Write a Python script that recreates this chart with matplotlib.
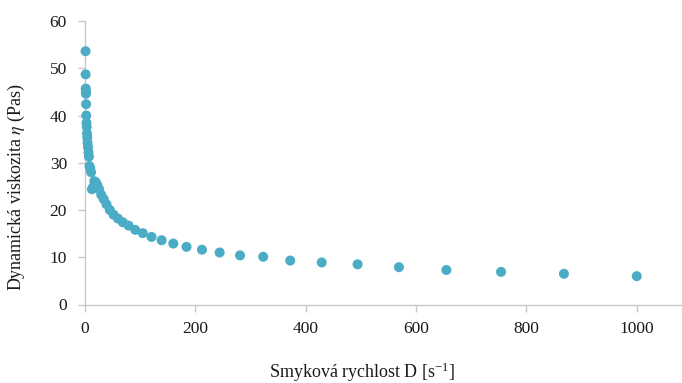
import matplotlib
matplotlib.use("Agg")
import matplotlib.pyplot as plt

plt.rcParams['font.family'] = ['Liberation Serif', 'DejaVu Serif']
plt.rcParams['mathtext.fontset'] = 'stix'

# Shear rate D [1/s] and dynamic viscosity eta [Pa.s]
shear_rate = [1.0, 1.15, 1.3, 1.5, 1.75, 2.0, 2.3, 2.7, 3.1, 3.6, 4.1, 4.7, 5.4, 6.3,
              7.2, 8.3, 9.5, 11, 12.6, 14.6, 16.8, 19.3, 22.2, 25.6, 29.5, 33.9, 39, 45,
              51.8, 59.6, 68.6, 79, 91, 104.8, 120.6, 138.9, 160, 184, 212, 244, 281,
              323, 372, 429, 494, 569, 655, 754, 868, 1000]
viscosity = [53.6, 48.7, 45.7, 45.0, 44.6, 42.4, 40.0, 38.4, 37.6, 36.2, 35.3, 34.2,
             33.3, 32.2, 31.3, 29.3, 28.8, 28.0, 24.4, 24.8, 26.1, 25.9, 25.3, 24.4,
             23.2, 22.3, 21.2, 20.0, 19.0, 18.2, 17.4, 16.7, 15.8, 15.1, 14.3, 13.6,
             12.9, 12.2, 11.6, 11.0, 10.4, 10.1, 9.3, 8.9, 8.5, 7.9, 7.3, 6.9, 6.5, 6.0]

x_ticks = [0, 200, 400, 600, 800, 1000]
y_ticks = [0, 10, 20, 30, 40, 50, 60]

fig = plt.figure(figsize=(6.82, 3.83), dpi=100)
ax = fig.add_axes([85 / 682, 1 - 304.5 / 383, 1 - 85 / 682, 283.5 / 383])

ax.scatter(shear_rate, viscosity, s=52, color='#4BACC6', edgecolors='none',
           zorder=3, clip_on=False)

ax.set_xlim(0, 1082)
ax.set_ylim(0, 60)
ax.set_xticks(x_ticks)
ax.set_yticks(y_ticks)

for side in ('top', 'right'):
    ax.spines[side].set_visible(False)
for side in ('left', 'bottom'):
    ax.spines[side].set_color('#c8c8c8')
    ax.spines[side].set_linewidth(1.0)

ax.tick_params(axis='both', which='major', length=5, width=1.0, color='#c8c8c8',
               labelsize=12.5, labelcolor='#1a1a1a', direction='out')
ax.tick_params(axis='x', pad=7)
ax.tick_params(axis='y', pad=8)

ax.set_xlabel(r'Smyková rychlost D [s$^{\mathregular{-1}}$]', fontsize=13,
              color='#1a1a1a')
ax.set_ylabel(r'Dynamická viskozita $\eta$ (Pas)', fontsize=13, color='#1a1a1a')
ax.xaxis.set_label_coords(0.464, -0.198)
ax.yaxis.set_label_coords(-0.097, 0.414)

fig.savefig('out.png', dpi=100)
